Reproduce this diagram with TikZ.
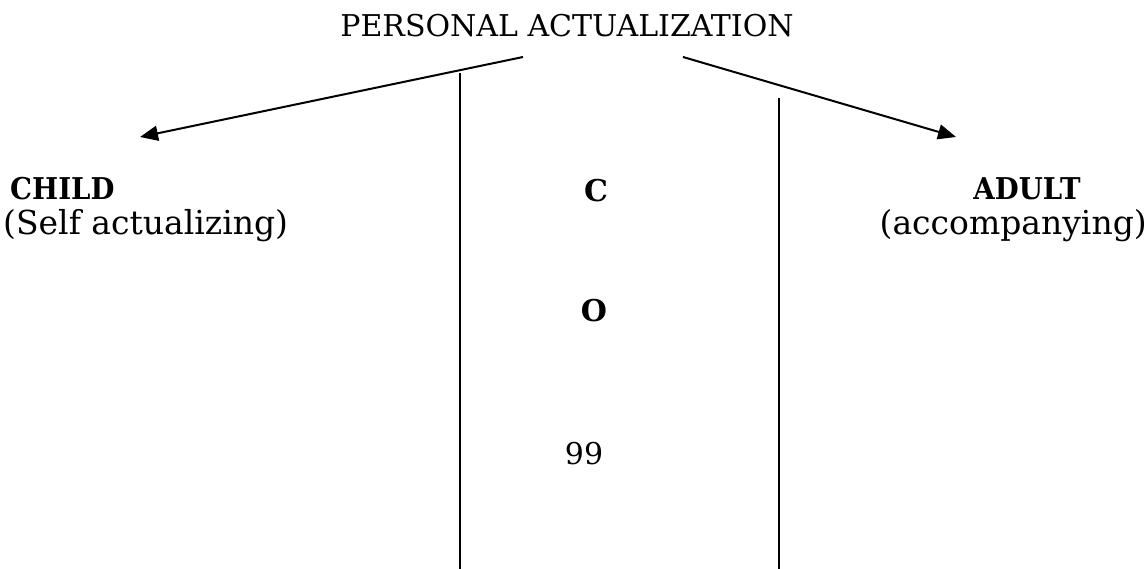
\documentclass[tikz,border=0pt]{standalone}
\usepackage{fontspec}
\setmainfont{DejaVu Serif}
\usetikzlibrary{arrows.meta}
\newcommand{\narrowbold}[1]{\scalebox{0.92}[1]{#1}}
\begin{document}
\begin{tikzpicture}[x=1pt,y=-1pt,
  lbl/.style={inner sep=0pt,font=\fontsize{30}{34}\selectfont},
  sublbl/.style={inner sep=0pt,font=\fontsize{33}{37}\selectfont},
  blbl/.style={inner sep=0pt,font=\fontsize{30}{34}\selectfont\bfseries},
  arr/.style={line width=2pt,-{Triangle[length=18pt,width=15pt]}},
  rule/.style={line width=2pt}]
\useasboundingbox (0,0) rectangle (1148,569);
\node[lbl,anchor=base] (title) at (567,37) {PERSONAL ACTUALIZATION};
\coordinate (ls) at (523,57);
\coordinate (lt) at (140,137);
\coordinate (rs) at (683,57);
\coordinate (rt) at (956,137);
\draw[arr] (ls) -- (lt);
\draw[arr] (rs) -- (rt);
\coordinate (v1t) at (460,73);
\coordinate (v1b) at (460,569);
\coordinate (v2t) at (779,98);
\coordinate (v2b) at (779,569);
\draw[rule] (v1t) -- (v1b);
\draw[rule] (v2t) -- (v2b);
\node[blbl,anchor=base west] (child) at (10,200) {\narrowbold{CHILD}};
\node[sublbl,anchor=base west] (childsub) at (3,235) {(Self actualizing)};
\node[blbl,anchor=base] (adult) at (1027,200) {\narrowbold{ADULT}};
\node[sublbl,anchor=base east] (adultsub) at (1147,235) {(accompanying)};
\node[blbl,anchor=base] (c) at (596,202) {C};
\node[blbl,anchor=base] (o) at (594,321) {O};
\node[lbl,anchor=base] (n) at (584,464) {99};
\end{tikzpicture}
\end{document}
